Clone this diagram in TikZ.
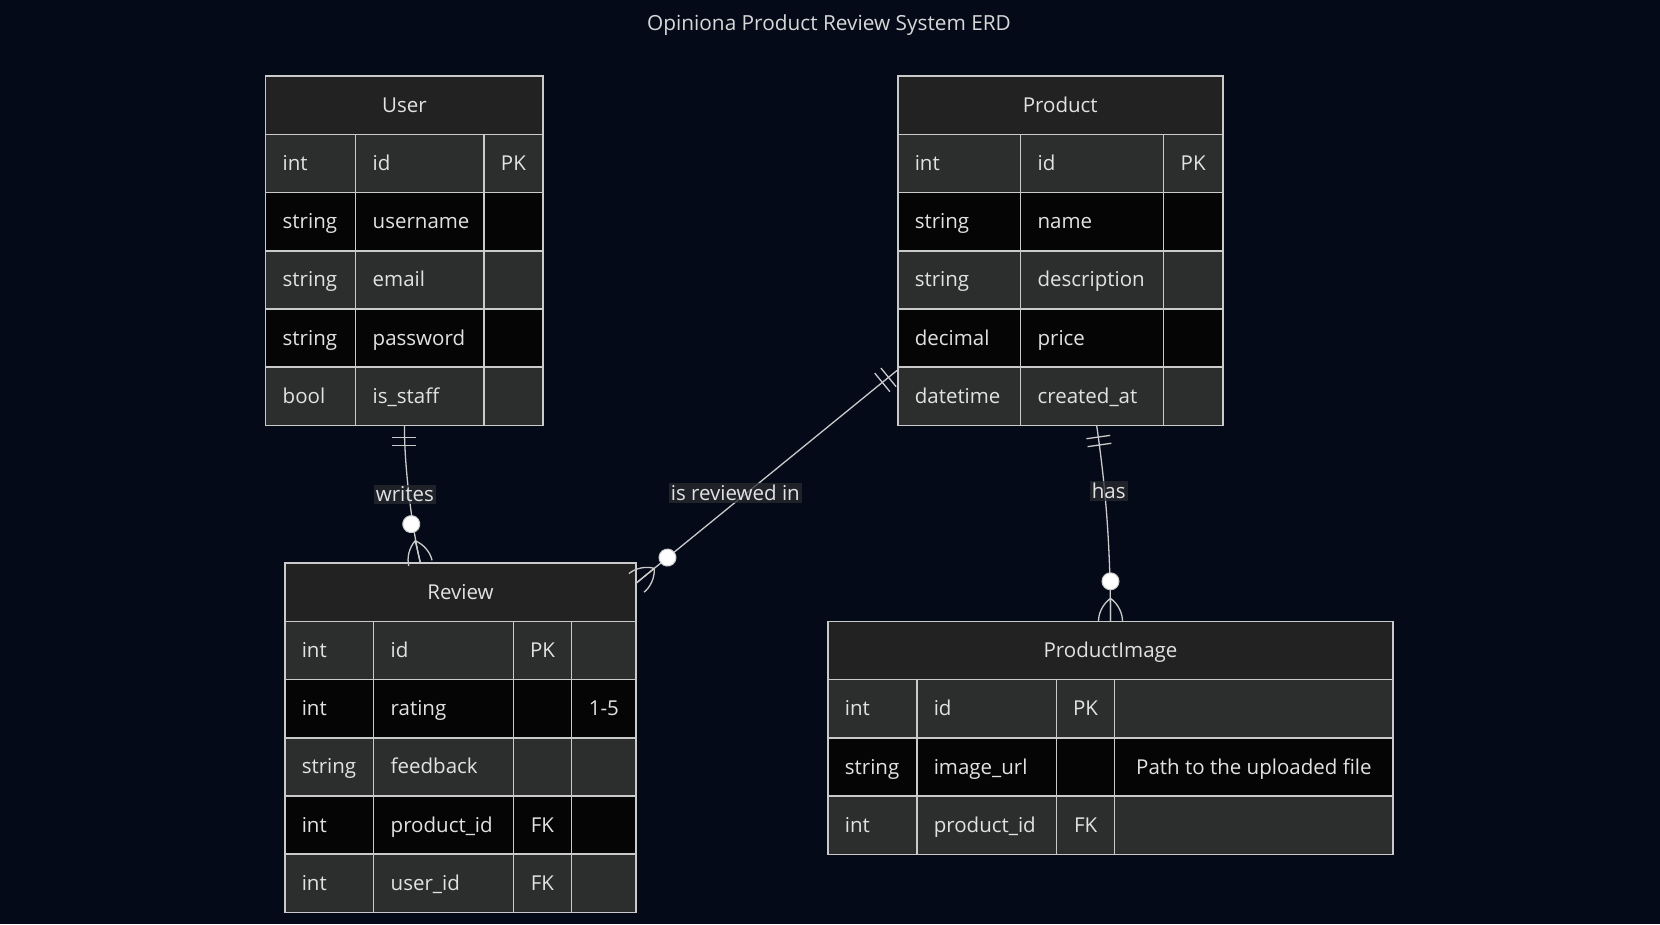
\documentclass[tikz,border=0pt]{standalone}
\usepackage{fontspec}
\setmainfont{Open Sans}
\usepackage{tikz}
\usetikzlibrary{positioning,matrix,decorations.markings}

\definecolor{bgc}{HTML}{050A19}
\definecolor{headc}{HTML}{222222}
\definecolor{rowa}{HTML}{2C2D2D}
\definecolor{rowb}{HTML}{050505}
\definecolor{linec}{HTML}{CACACA}
\definecolor{txtc}{HTML}{E2E2E2}
\definecolor{lblc}{HTML}{2A2B2F}

\begin{document}
\begin{tikzpicture}[
  x=1pt, y=-1pt,
  every node/.style={font=\fontsize{20.5}{24}\selectfont, text=txtc},
  cell/.style={draw=linec, line width=1.5pt, anchor=center, minimum height=58.2pt,
    inner xsep=17pt, inner ysep=0pt, outer sep=0pt, text height=16pt, text depth=2pt},
  head/.style={cell, fill=headc, anchor=north west, align=center},
  entity/.style={matrix of nodes, nodes in empty cells, inner sep=0pt, outer sep=0pt,
    column sep=-1.5pt, row sep=-1.5pt, nodes={cell},
    every odd row/.style={nodes={fill=rowa}},
    every even row/.style={nodes={fill=rowb}}},
  txt/.style={nodes={text width=#1, align=left}},
  key/.style={nodes={minimum width=#1, inner xsep=2pt}},
  lbl/.style={fill=lblc, fill opacity=0.75, text opacity=1, inner sep=2pt},
  rel/.style={draw=linec, line width=1.3pt, postaction=decorate, decoration={markings,
    mark=at position 0 with {\draw[linec, line width=1.3pt] (11,-12) -- (11,12) (19,-12) -- (19,12);},
    mark=at position 0.999 with {\draw[linec, line width=1.3pt] (-23,0) -- (0,0)
        (-23,0) .. controls (-17,8) and (-8,12) .. (0,12)
        (-23,0) .. controls (-17,-8) and (-8,-12) .. (0,-12);
      \filldraw[fill=white, draw=linec, line width=1pt] (-40,0) circle[radius=8.5];}}}
]
  \path[use as bounding box, fill=bgc] (0,0) rectangle (1660,924);

  \node[font=\fontsize{20.8}{24}\selectfont, text=txtc!90!gray] (title) at (829,25.5)
    {Opiniona Product Review System ERD};

  % entities
  \node[head, minimum width=277.4pt] (user-h) at (265.7,76.2) {User};
  \matrix (user) [entity, below=-0.75pt of user-h,
    column 1/.style={txt=56pt}, column 2/.style={txt=94.1pt}, column 3/.style={key=59.3pt}] {
    int & id & PK \\
    string & username & \\
    string & email & \\
    string & password & \\
    bool & is\_staff & \\
  };

  \node[head, minimum width=325pt] (product-h) at (897.8,76.2) {Product};
  \matrix (product) [entity, below=-0.75pt of product-h,
    column 1/.style={txt=88.8pt}, column 2/.style={txt=108.9pt}, column 3/.style={key=59.3pt}] {
    int & id & PK \\
    string & name & \\
    string & description & \\
    decimal & price & \\
    datetime & created\_at & \\
  };

  \node[head, minimum width=351.4pt] (review-h) at (284.8,563.2) {Review};
  \matrix (review) [entity, below=-0.75pt of review-h,
    column 1/.style={txt=54.9pt}, column 2/.style={txt=105.7pt},
    column 3/.style={key=58.2pt}, column 4/.style={key=64.6pt}] {
    int & id & PK & \\
    int & rating & & 1-5 \\
    string & feedback & & \\
    int & product\_id & FK & \\
    int & user\_id & FK & \\
  };

  \node[head, minimum width=565.2pt] (pimage-h) at (827.9,621.5) {ProductImage};
  \matrix (pimage) [entity, below=-0.75pt of pimage-h,
    column 1/.style={txt=54.9pt}, column 2/.style={txt=105.7pt},
    column 3/.style={key=58.2pt}, column 4/.style={key=278.4pt}] {
    int & id & PK & \\
    string & image\_url & & Path to the uploaded file \\
    int & product\_id & FK & \\
  };

  % relationships
  \draw[rel] (user.south) .. controls (404.4,465) and (411,523) .. (review-h.144.8)
    node[lbl, pos=0.5, xshift=-4pt] {writes};
  \draw[rel] (product.209.6) -- (review-h.3.7)
    node[lbl, pos=0.62, yshift=9pt] {is reviewed in};
  \draw[rel] (product.-76) .. controls (1103,470) and (1110.5,530) .. (pimage-h.north)
    node[lbl, pos=0.42, xshift=4pt] {has};
\end{tikzpicture}
\end{document}
